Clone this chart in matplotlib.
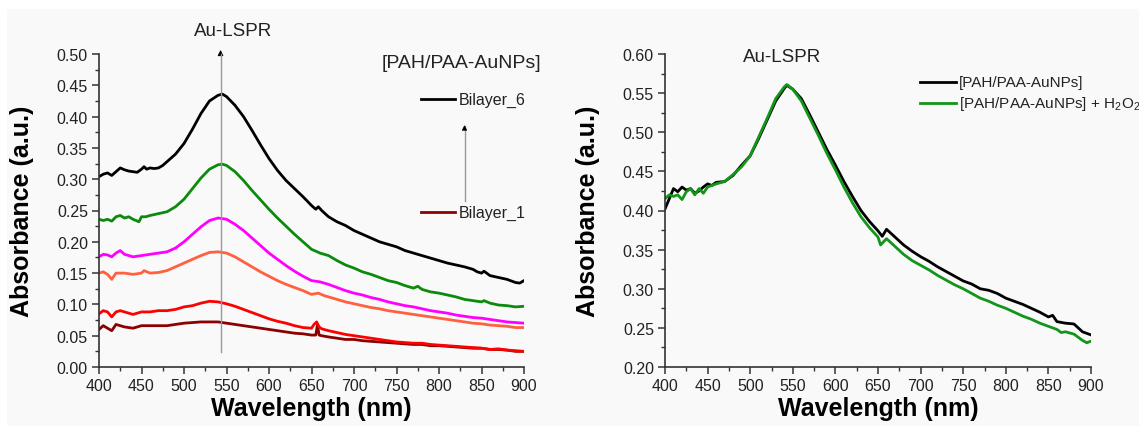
import matplotlib
matplotlib.use("Agg")
import matplotlib.pyplot as plt
from matplotlib.patches import Rectangle
from matplotlib.ticker import MultipleLocator

plt.rcParams['font.family'] = ['Liberation Sans', 'DejaVu Sans']
plt.rcParams['mathtext.fontset'] = 'custom'
plt.rcParams['mathtext.rm'] = 'Liberation Sans'

# ---------------- data ----------------
bilayer6 = [(400,0.304),(405,0.308),(410,0.310),(415,0.306),(420,0.312),(425,0.318),(430,0.315),
            (435,0.313),(440,0.312),(445,0.311),(450,0.316),(453,0.320),(456,0.316),(460,0.318),
            (465,0.317),(470,0.318),(475,0.322),(480,0.328),(490,0.340),(500,0.357),(510,0.380),
            (520,0.405),(530,0.425),(540,0.434),(545,0.436),(550,0.432),(560,0.418),(570,0.400),
            (580,0.378),(590,0.355),(600,0.333),(610,0.314),(620,0.298),(630,0.285),(640,0.272),
            (650,0.258),(655,0.252),(658,0.256),(662,0.250),(670,0.240),(680,0.232),(690,0.226),
            (700,0.218),(710,0.212),(720,0.206),(730,0.200),(740,0.196),(750,0.192),(760,0.186),
            (770,0.182),(780,0.178),(790,0.174),(800,0.170),(810,0.166),(820,0.163),(830,0.160),
            (840,0.156),(845,0.152),(850,0.150),(853,0.153),(860,0.146),(870,0.143),(880,0.140),
            (890,0.135),(895,0.134),(900,0.138)]
bilayer5 = [(400,0.236),(405,0.234),(410,0.236),(415,0.233),(420,0.240),(425,0.242),(430,0.238),
            (435,0.240),(440,0.236),(447,0.232),(450,0.240),(455,0.240),(460,0.242),(470,0.245),
            (480,0.248),(490,0.256),(500,0.268),(510,0.285),(520,0.302),(530,0.316),(540,0.323),
            (545,0.324),(550,0.322),(560,0.312),(570,0.298),(580,0.282),(590,0.267),(600,0.252),
            (610,0.238),(620,0.225),(630,0.212),(640,0.200),(650,0.188),(660,0.182),(670,0.178),
            (680,0.170),(690,0.163),(700,0.158),(710,0.152),(720,0.148),(730,0.143),(740,0.138),
            (750,0.135),(760,0.130),(770,0.126),(775,0.129),(780,0.124),(790,0.120),(800,0.118),
            (810,0.115),(820,0.112),(830,0.108),(840,0.106),(850,0.104),(853,0.106),(860,0.102),
            (870,0.099),(880,0.098),(890,0.096),(900,0.097)]
bilayer4 = [(400,0.176),(405,0.180),(410,0.179),(415,0.176),(420,0.182),(425,0.186),(430,0.180),
            (440,0.176),(450,0.178),(460,0.180),(470,0.182),(480,0.184),(490,0.190),(500,0.200),
            (510,0.212),(520,0.224),(530,0.234),(540,0.238),(550,0.236),(560,0.228),(570,0.218),
            (580,0.206),(590,0.194),(600,0.182),(610,0.172),(620,0.162),(630,0.153),(640,0.145),
            (650,0.138),(660,0.136),(670,0.132),(680,0.127),(690,0.122),(700,0.118),(710,0.115),
            (720,0.111),(730,0.108),(740,0.104),(750,0.101),(760,0.098),(770,0.096),(780,0.093),
            (790,0.090),(800,0.088),(810,0.086),(820,0.083),(830,0.081),(840,0.079),(850,0.078),
            (860,0.076),(870,0.074),(880,0.072),(890,0.071),(900,0.070)]
bilayer3 = [(400,0.150),(405,0.152),(410,0.148),(415,0.140),(420,0.150),(430,0.150),(440,0.148),
            (450,0.150),(453,0.154),(460,0.150),(470,0.151),(480,0.154),(490,0.160),(500,0.166),
            (510,0.172),(520,0.178),(530,0.183),(540,0.184),(550,0.182),(560,0.176),(570,0.168),
            (580,0.160),(590,0.152),(600,0.145),(610,0.138),(620,0.132),(630,0.127),(640,0.122),
            (650,0.116),(658,0.118),(665,0.114),(670,0.112),(680,0.108),(690,0.104),(700,0.101),
            (710,0.098),(720,0.095),(730,0.093),(740,0.090),(750,0.088),(760,0.086),(770,0.084),
            (780,0.082),(790,0.080),(800,0.078),(810,0.076),(820,0.074),(830,0.072),(840,0.070),
            (850,0.069),(860,0.067),(870,0.066),(880,0.065),(890,0.063),(900,0.063)]
bilayer2 = [(400,0.085),(405,0.090),(410,0.088),(415,0.080),(420,0.088),(425,0.090),(430,0.088),
            (440,0.084),(450,0.088),(460,0.088),(470,0.090),(480,0.090),(490,0.092),(500,0.096),
            (510,0.098),(520,0.102),(530,0.105),(540,0.104),(550,0.101),(560,0.097),(570,0.092),
            (580,0.087),(590,0.082),(600,0.077),(610,0.073),(620,0.070),(630,0.066),(640,0.063),
            (650,0.062),(653,0.068),(656,0.072),(659,0.064),(662,0.061),(670,0.058),(680,0.055),
            (690,0.052),(700,0.050),(710,0.048),(720,0.046),(730,0.044),(740,0.042),(750,0.040),
            (760,0.039),(770,0.038),(780,0.038),(790,0.036),(800,0.035),(810,0.034),(820,0.033),
            (830,0.032),(840,0.031),(850,0.030),(860,0.028),(870,0.029),(880,0.027),(890,0.026),(900,0.025)]
bilayer1 = [(400,0.060),(405,0.066),(410,0.062),(415,0.058),(420,0.068),(430,0.064),(440,0.062),
            (450,0.066),(460,0.066),(470,0.066),(480,0.066),(490,0.068),(500,0.070),(510,0.071),
            (520,0.072),(530,0.072),(540,0.072),(550,0.070),(560,0.068),(570,0.066),(580,0.064),
            (590,0.062),(600,0.060),(610,0.058),(620,0.056),(630,0.054),(640,0.053),(650,0.051),
            (655,0.051),(657,0.067),(659,0.051),(662,0.050),(670,0.048),(680,0.046),(690,0.044),
            (700,0.044),(710,0.042),(720,0.041),(730,0.040),(740,0.039),(750,0.038),(760,0.037),
            (770,0.036),(780,0.036),(790,0.034),(800,0.034),(810,0.033),(820,0.032),(830,0.031),
            (840,0.030),(850,0.030),(860,0.028),(870,0.028),(880,0.027),(890,0.025),(900,0.025)]

film = [(400,0.402),(405,0.415),(410,0.428),(415,0.424),(420,0.430),(425,0.426),(430,0.428),
        (435,0.422),(440,0.425),(445,0.430),(450,0.434),(455,0.432),(460,0.436),(470,0.437),
        (480,0.445),(490,0.458),(500,0.470),(510,0.492),(520,0.516),(530,0.540),(540,0.556),
        (543,0.560),(550,0.555),(560,0.543),(570,0.522),(580,0.500),(590,0.478),(600,0.458),
        (610,0.437),(620,0.418),(630,0.400),(640,0.386),(650,0.374),(655,0.367),(660,0.376),
        (670,0.366),(680,0.356),(690,0.348),(700,0.341),(710,0.335),(720,0.328),(730,0.322),
        (740,0.316),(750,0.310),(760,0.306),(770,0.300),(780,0.298),(790,0.294),(800,0.288),
        (810,0.284),(820,0.280),(830,0.275),(840,0.270),(850,0.264),(855,0.266),(860,0.258),
        (870,0.256),(880,0.255),(885,0.250),(890,0.245),(900,0.241)]
film_h2o2 = [(400,0.415),(405,0.420),(410,0.418),(415,0.420),(420,0.414),(425,0.424),(430,0.428),
             (435,0.420),(440,0.428),(445,0.422),(450,0.430),(460,0.434),(470,0.437),(480,0.446),
             (490,0.456),(500,0.470),(510,0.494),(520,0.518),(530,0.543),(540,0.558),(543,0.561),
             (550,0.555),(560,0.540),(570,0.518),(580,0.496),(590,0.473),(600,0.452),(610,0.430),
             (620,0.410),(630,0.392),(640,0.378),(650,0.366),(653,0.356),(660,0.364),(670,0.354),
             (680,0.344),(690,0.336),(700,0.330),(710,0.324),(720,0.317),(730,0.311),(740,0.305),
             (750,0.300),(760,0.294),(770,0.288),(775,0.286),(780,0.284),(790,0.279),(800,0.275),
             (810,0.270),(820,0.265),(830,0.261),(840,0.256),(850,0.252),(860,0.248),(865,0.244),
             (870,0.245),(880,0.242),(890,0.234),(895,0.231),(900,0.233)]

left_series = [bilayer1, bilayer2, bilayer3, bilayer4, bilayer5, bilayer6]
left_colors = ['#8b0000', '#ff0000', '#ff6040', '#ff00ff', '#0b8a0b', '#000000']
right_series = [film, film_h2o2]
right_colors = ['#000000', '#12951a']
right_labels = ['[PAH/PAA-AuNPs]', '[PAH/PAA-AuNPs] + H$_2$O$_2$']
x_ticks = list(range(400, 901, 50))

# ---------------- figure ----------------
W, H = 1139, 427
fig = plt.figure(figsize=(W/100, H/100), dpi=100, facecolor='white')
fig.patches.append(Rectangle((7/W, 0), 1, (H-10)/H, transform=fig.transFigure,
                             facecolor='#f9f9f9', edgecolor='none', zorder=-10))

axL = fig.add_axes([99/W, (H-368)/H, 425/W, 313/H])
axR = fig.add_axes([665/W, (H-368)/H, 426/W, 313/H])

spine_c = '#333333'
for ax in (axL, axR):
    ax.set_facecolor('none')
    for s in ('top', 'right'):
        ax.spines[s].set_visible(False)
    for s in ('left', 'bottom'):
        ax.spines[s].set_color(spine_c)
        ax.spines[s].set_linewidth(1.2)
    ax.set_xlim(400, 900)
    ax.set_xticks(x_ticks)
    ax.xaxis.set_minor_locator(MultipleLocator(25))
    ax.tick_params(which='major', direction='out', length=5, width=1.1, color=spine_c,
                   labelsize=11.5, labelcolor='#222222', pad=3)
    ax.tick_params(which='minor', direction='out', length=3, width=1.0, color=spine_c)
    ax.set_xlabel('Wavelength (nm)', fontsize=18, fontweight='bold', labelpad=2)
    ax.set_ylabel('Absorbance (a.u.)', fontsize=18, fontweight='bold')
    ax.yaxis.set_label_coords(-0.153, 0.5)

# left panel
for ser, c in zip(left_series, left_colors):
    xs = [p[0] for p in ser]
    ys = [p[1] for p in ser]
    axL.plot(xs, ys, color=c, lw=2.0, solid_joinstyle='round')
axL.set_ylim(0, 0.5)
axL.set_yticks([i*0.05 for i in range(11)])
axL.yaxis.set_major_formatter(matplotlib.ticker.FormatStrFormatter('%.2f'))
axL.yaxis.set_minor_locator(MultipleLocator(0.025))

# Au-LSPR arrow
axL.plot([543, 543], [0.0235, 0.50], color='#999999', lw=1.0, clip_on=False, zorder=5)
axL.annotate('', xy=(543, 0.511), xytext=(543, 0.497),
             arrowprops=dict(arrowstyle='-|>', color='black', lw=0.8, mutation_scale=8),
             annotation_clip=False)
axL.text(558, 0.537, 'Au-LSPR', fontsize=13.5, ha='center', va='center', color='#222222',
         clip_on=False)
axL.text(733, 0.487, '[PAH/PAA-AuNPs]', fontsize=14, ha='left', va='center', color='#222222',
         clip_on=False)
axL.plot([779, 819], [0.428, 0.428], color='black', lw=2.0, clip_on=False)
axL.text(823, 0.428, 'Bilayer_6', fontsize=11.5, ha='left', va='center', color='#222222')
axL.plot([779, 819], [0.247, 0.247], color='#8b0000', lw=2.0, clip_on=False)
axL.text(823, 0.247, 'Bilayer_1', fontsize=11.5, ha='left', va='center', color='#222222')
axL.plot([830, 830], [0.265, 0.385], color='#999999', lw=1.0)
axL.annotate('', xy=(830, 0.391), xytext=(830, 0.378),
             arrowprops=dict(arrowstyle='-|>', color='black', lw=0.8, mutation_scale=7))

# right panel
for ser, c in zip(right_series, right_colors):
    xs = [p[0] for p in ser]
    ys = [p[1] for p in ser]
    axR.plot(xs, ys, color=c, lw=2.0, solid_joinstyle='round')
axR.set_ylim(0.2, 0.6)
axR.set_yticks([0.2 + i*0.05 for i in range(9)])
axR.yaxis.set_major_formatter(matplotlib.ticker.FormatStrFormatter('%.2f'))
axR.yaxis.set_minor_locator(MultipleLocator(0.025))
axR.text(537, 0.597, 'Au-LSPR', fontsize=13.5, ha='center', va='center', color='#222222',
         clip_on=False)
for yv, c, lab in zip([0.5638, 0.538], right_colors, right_labels):
    axR.plot([699, 742], [yv, yv], color=c, lw=2.0, clip_on=False)
    axR.text(744.5, yv, lab, fontsize=11, ha='left', va='center', color='#222222',
             clip_on=False)

fig.savefig('out.png', dpi=100, facecolor=fig.get_facecolor())
